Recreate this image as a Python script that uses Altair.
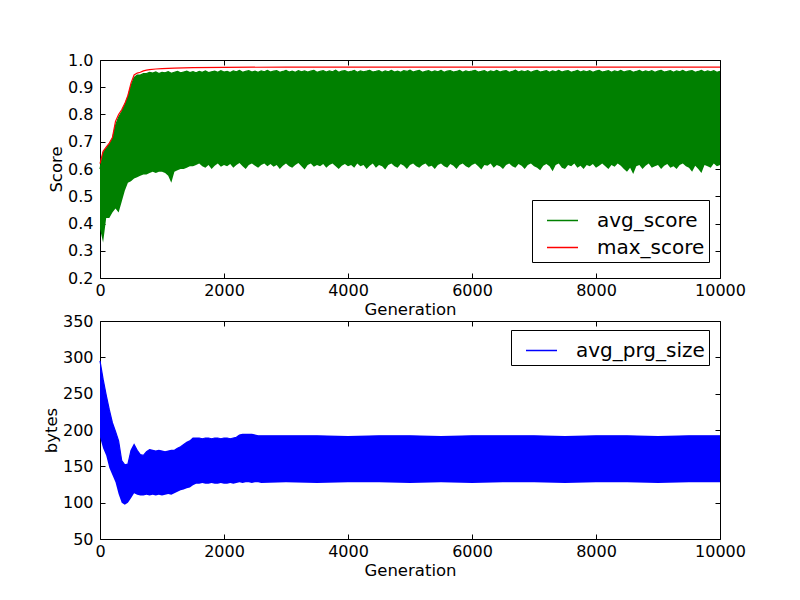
import altair as alt
import pandas as pd

FONT = "DejaVu Sans"
W, H = 620, 218

# ---------------- top panel data ----------------
gens = list(range(0, 10001, 50))

avg_hi = [
    0.60, 0.66, 0.675, 0.69, 0.71, 0.76, 0.79, 0.81, 0.835, 0.865,
    0.905, 0.935, 0.945, 0.945, 0.95, 0.95, 0.955,
    0.952, 0.956, 0.950, 0.955, 0.953, 0.957, 0.951, 0.955, 0.958, 0.953,
    0.956, 0.959, 0.954, 0.957, 0.953, 0.958, 0.955, 0.960, 0.954, 0.957,
    0.959, 0.955, 0.961, 0.956, 0.958, 0.954, 0.960, 0.957, 0.962, 0.955,
    0.958, 0.961, 0.956, 0.959, 0.955, 0.960, 0.957, 0.962, 0.956, 0.959,
    0.961, 0.955, 0.958, 0.962, 0.956, 0.959, 0.955, 0.961, 0.957, 0.960,
    0.956, 0.959, 0.962, 0.955, 0.958, 0.961, 0.956, 0.960, 0.957, 0.963,
    0.955, 0.959, 0.961, 0.956, 0.958, 0.962, 0.955, 0.960, 0.957, 0.959,
    0.962, 0.956, 0.958, 0.961, 0.955, 0.960, 0.957, 0.962, 0.956, 0.959,
    0.955, 0.961, 0.958, 0.963, 0.956, 0.959, 0.962, 0.955, 0.958, 0.961,
    0.956, 0.960, 0.957, 0.962, 0.955, 0.959, 0.961, 0.956, 0.958, 0.962,
    0.955, 0.960, 0.957, 0.959, 0.962, 0.956, 0.958, 0.961, 0.955, 0.960,
    0.957, 0.962, 0.956, 0.959, 0.961, 0.955, 0.958, 0.963, 0.956, 0.960,
    0.957, 0.961, 0.955, 0.959, 0.962, 0.956, 0.958, 0.961, 0.955, 0.960,
    0.957, 0.962, 0.956, 0.959, 0.961, 0.955, 0.958, 0.962, 0.956, 0.960,
    0.957, 0.961, 0.955, 0.959, 0.962, 0.956, 0.958, 0.961, 0.955, 0.960,
    0.957, 0.962, 0.956, 0.959, 0.961, 0.955, 0.958, 0.962, 0.956, 0.960,
    0.957, 0.961, 0.955, 0.959, 0.962, 0.956, 0.958, 0.961, 0.955, 0.960,
    0.957, 0.962, 0.956, 0.959, 0.961, 0.955, 0.958, 0.962, 0.956, 0.960,
    0.957, 0.961, 0.955, 0.958,
]

avg_lo = [
    0.38, 0.33, 0.42, 0.42, 0.44, 0.455, 0.44, 0.48, 0.52, 0.55,
    0.555, 0.565, 0.57, 0.575, 0.58, 0.58, 0.585, 0.59, 0.585, 0.59,
    0.59, 0.585, 0.575, 0.55, 0.59, 0.595, 0.60, 0.60, 0.605, 0.61,
    0.61,
    0.615, 0.62, 0.61, 0.605, 0.615, 0.60, 0.612, 0.62, 0.608, 0.615,
    0.61, 0.618, 0.605, 0.615, 0.622, 0.61, 0.60, 0.615, 0.62, 0.612,
    0.605, 0.615, 0.62, 0.61, 0.618, 0.608, 0.615, 0.60, 0.612, 0.62,
    0.61, 0.605, 0.615, 0.622, 0.61, 0.598, 0.615, 0.62, 0.608, 0.615,
    0.61, 0.618, 0.605, 0.615, 0.62, 0.61, 0.60, 0.612, 0.618, 0.61,
    0.615, 0.605, 0.62, 0.61, 0.615, 0.60, 0.612, 0.62, 0.605, 0.615,
    0.61, 0.598, 0.615, 0.62, 0.61, 0.605, 0.618, 0.612, 0.60, 0.615,
    0.62, 0.61, 0.605, 0.615, 0.62, 0.608, 0.612, 0.60, 0.615, 0.62,
    0.61, 0.605, 0.618, 0.612, 0.60, 0.615, 0.62, 0.61, 0.605, 0.615,
    0.62, 0.61, 0.598, 0.615, 0.612, 0.62, 0.605, 0.615, 0.61, 0.60,
    0.615, 0.62, 0.61, 0.605, 0.618, 0.612, 0.60, 0.615, 0.62, 0.61,
    0.605, 0.595, 0.612, 0.618, 0.61, 0.592, 0.615, 0.62, 0.605, 0.60,
    0.615, 0.61, 0.62, 0.605, 0.612, 0.60, 0.615, 0.61, 0.618, 0.605,
    0.612, 0.62, 0.61, 0.60, 0.615, 0.608, 0.62, 0.612, 0.60, 0.59,
    0.605, 0.582, 0.61, 0.615, 0.60, 0.612, 0.62, 0.605, 0.61, 0.615,
    0.60, 0.612, 0.618, 0.605, 0.61, 0.60, 0.615, 0.62, 0.61, 0.605,
    0.59, 0.612, 0.60, 0.585, 0.615, 0.61, 0.605, 0.62, 0.61, 0.615,
]

max_gens = [0, 50, 100, 150, 200, 250, 300, 350, 400, 450, 500, 550, 600,
            650, 700, 750, 800, 900, 1000, 1200, 1500, 2000, 3000, 5000,
            7000, 10000]
max_vals = [0.62, 0.665, 0.68, 0.695, 0.715, 0.775, 0.80, 0.817, 0.84, 0.87,
            0.915, 0.945, 0.952, 0.955, 0.96, 0.963, 0.965, 0.967, 0.968,
            0.970, 0.972, 0.973, 0.974, 0.974, 0.974, 0.974]

# ---------------- bottom panel data ----------------
prg_gens = list(range(0, 2601, 50)) + list(range(3000, 10001, 500))

prg_hi = [
    295, 270, 248, 228, 210, 198, 185, 158, 152, 153,
    172, 180, 172, 166, 165, 170, 173, 172, 171, 172,
    171, 170, 171, 172, 172, 175, 177, 180, 183, 185,
    189, 189,
    189, 188, 189, 189, 188, 189, 189, 188, 189, 189, 188, 189, 190,
    193, 194, 194, 194, 194, 193, 192, 192,
    192, 192, 191, 192, 192, 191, 192, 192, 192, 191, 192, 192, 191, 192, 192,
]
prg_lo = [
    190, 175, 165, 148, 138, 128, 112, 100, 97, 100,
    106, 113, 111, 110, 110, 111, 110, 111, 110, 111,
    110, 111, 112, 111, 113, 115, 117, 118, 120, 121,
    124, 126,
    126, 127, 126, 126, 127, 126, 126, 127, 126, 126, 127, 126, 127,
    128, 127, 128, 128, 127, 128, 128, 127,
    128, 127, 128, 128, 127, 128, 127, 128, 128, 127, 128, 128, 127, 128, 128,
]

x_ticks = [0, 2000, 4000, 6000, 8000, 10000]
score_ticks = [0.2, 0.3, 0.4, 0.5, 0.6, 0.7, 0.8, 0.9, 1.0]
bytes_ticks = [50, 100, 150, 200, 250, 300, 350]

# ---------------- helpers ----------------
def x_axis():
    return alt.Axis(title="Generation", values=x_ticks, format="d",
                    labelFlush=False, labelOverlap=False, ticks=False,
                    domain=False, grid=True, gridColor="black",
                    gridOpacity=1, gridWidth=1,
                    gridDash=[5, H - 10, 5, 0], labelPadding=4,
                    titlePadding=3)


def y_axis(title, vals, fmt):
    return alt.Axis(title=title, values=vals, format=fmt,
                    labelOverlap=False, ticks=False, domain=False,
                    labelFlush=False,
                    grid=True, gridColor="black", gridOpacity=1, gridWidth=1,
                    gridDash=[5, W - 10, 5, 0], labelPadding=7,
                    titlePadding=3)


def legend(x, y):
    return alt.Legend(title=None, orient="none", legendX=x, legendY=y,
                      symbolType="stroke", symbolSize=961,
                      symbolStrokeWidth=1.5, symbolOffset=10,
                      labelFontSize=20, labelFont=FONT, labelColor="black",
                      labelOffset=18, labelExpr="datum.label + ' '",
                      rowPadding=0, padding=4,
                      strokeColor="black", fillColor="white", cornerRadius=0)


xscale = alt.Scale(domain=[0, 10000], nice=False, zero=False)

# ---------------- top panel ----------------
band_top = pd.DataFrame({"gen": gens, "lo": avg_lo, "hi": avg_hi})
lines_top = pd.concat([
    pd.DataFrame({"gen": gens, "value": avg_hi, "series": "avg_score"}),
    pd.DataFrame({"gen": max_gens, "value": max_vals, "series": "max_score"}),
], ignore_index=True)

yscale_top = alt.Scale(domain=[0.2, 1.0], nice=False, zero=False)
yax_top = y_axis("Score", score_ticks, ".1f")

area_top = alt.Chart(band_top).mark_area(color="#008000", opacity=1).encode(
    x=alt.X("gen:Q", scale=xscale, axis=x_axis()),
    y=alt.Y("lo:Q", scale=yscale_top, axis=yax_top),
    y2="hi:Q",
)
line_top = alt.Chart(lines_top).mark_line(strokeWidth=1.2).encode(
    x=alt.X("gen:Q", scale=xscale, axis=x_axis()),
    y=alt.Y("value:Q", scale=yscale_top, axis=yax_top),
    color=alt.Color("series:N",
                    scale=alt.Scale(domain=["avg_score", "max_score"],
                                    range=["#008000", "#ff0000"]),
                    legend=legend(432, 140)),
    order="series:N",
)
top = alt.layer(area_top, line_top).properties(width=W, height=H)

# ---------------- bottom panel ----------------
band_bot = pd.DataFrame({"gen": prg_gens, "lo": prg_lo, "hi": prg_hi})
line_bot_df = pd.DataFrame({"gen": prg_gens, "value": prg_hi,
                            "series": "avg_prg_size"})
yscale_bot = alt.Scale(domain=[50, 350], nice=False, zero=False)
yax_bot = y_axis("bytes", bytes_ticks, "d")

area_bot = alt.Chart(band_bot).mark_area(color="#0000ff", opacity=1).encode(
    x=alt.X("gen:Q", scale=xscale, axis=x_axis()),
    y=alt.Y("lo:Q", scale=yscale_bot, axis=yax_bot),
    y2="hi:Q",
)
line_bot = alt.Chart(line_bot_df).mark_line(strokeWidth=1.2).encode(
    x=alt.X("gen:Q", scale=xscale, axis=x_axis()),
    y=alt.Y("value:Q", scale=yscale_bot, axis=yax_bot),
    color=alt.Color("series:N",
                    scale=alt.Scale(domain=["avg_prg_size"],
                                    range=["#0000ff"]),
                    legend=legend(411, 9)),
)
bottom = alt.layer(area_bot, line_bot).properties(width=W, height=H)

chart = alt.vconcat(top, bottom, spacing=-6).resolve_scale(
    color="independent"
).properties(
    padding={"left": 34, "top": 43, "right": 10, "bottom": 10},
    background="white",
).configure_view(
    stroke="black", strokeWidth=1
).configure_axis(
    labelFont=FONT, titleFont=FONT, labelFontSize=16, titleFontSize=16.5,
    titleFontWeight="normal", labelColor="black", titleColor="black",
)

chart.save("out.html", embed_options={"renderer": "svg", "actions": False})
